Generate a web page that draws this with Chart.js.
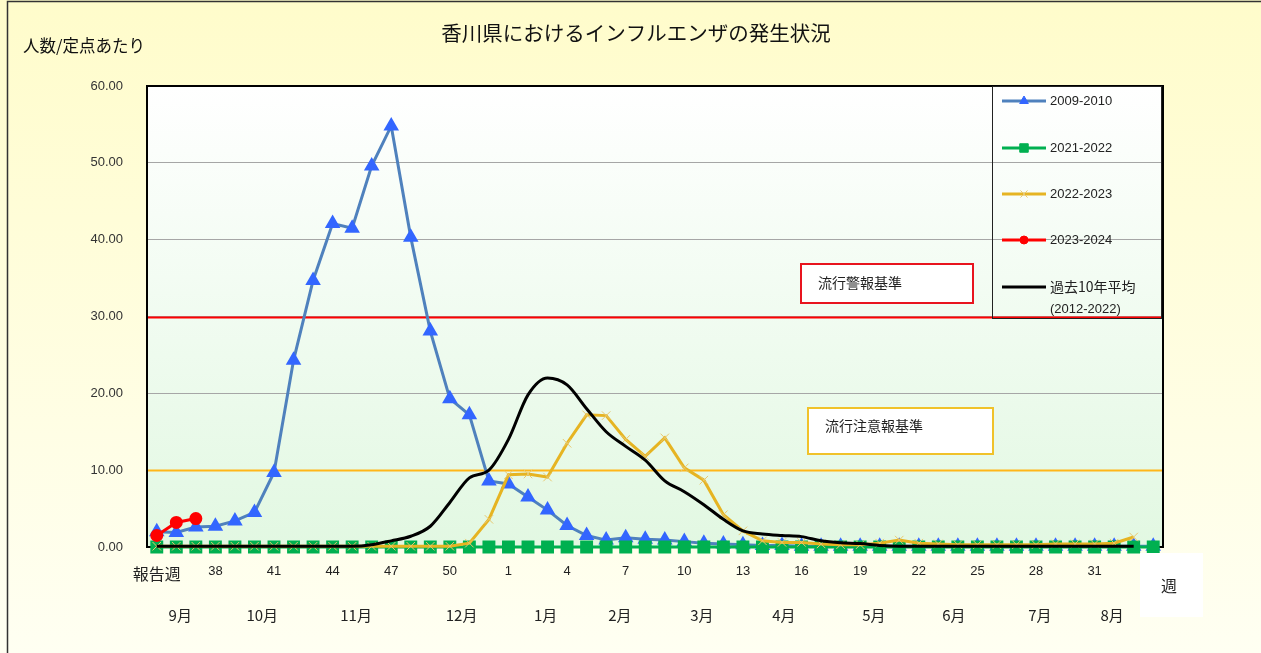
<!DOCTYPE html>
<html>
<head>
<meta charset="utf-8">
<script src="https://cdn.jsdelivr.net/npm/chart.js"></script>
<style>
    html, body { margin: 0; padding: 0; background: #fffde0; }
    #wrap { width: 1261px; height: 653px; }
</style>
</head>
<body>
<div id="wrap"><canvas id="fluChart" width="1261" height="653"></canvas></div>
<script>
// report weeks (Sept -> Aug)
const weeks = ["35","36","37","38","39","40","41","42","43","44","45","46","47","48","49","50","51","52",
    "1","2","3","4","5","6","7","8","9","10","11","12","13","14","15","16","17","18","19","20",
    "21","22","23","24","25","26","27","28","29","30","31","32","33","34"];

const s2009 = [2.0,1.9,2.6,2.7,3.4,4.5,9.7,24.3,34.7,42.1,41.5,49.6,54.8,40.3,28.1,19.3,17.2,8.6,
    8.2,6.5,4.8,2.8,1.5,0.9,1.2,1.0,0.9,0.7,0.5,0.4,0.3,0.2,0.2,0.1,0.1,0.1,0.1,0.1,
    0.1,0.1,0.1,0.1,0.1,0.1,0.1,0.1,0.1,0.1,0.1,0.1,0.1,0.1];
const s2021 = [0,0,0,0,0,0,0,0,0,0,0,0,0,0,0,0,0,0,
    0,0,0,0,0,0,0,0,0,0,0,0,0,0,0,0,0,0,0,0,
    0,0,0,0,0,0,0,0,0,0,0,0,0,0];
const s2022 = [0.1,0.1,0.1,0.1,0.1,0.1,0.1,0.1,0.1,0.1,0.1,0.1,0.1,0.1,0.1,0.1,0.5,3.6,
    9.4,9.5,9.1,13.5,17.2,17.1,14.0,11.8,14.2,10.3,8.7,4.2,2.1,0.8,0.6,0.6,0.4,0.3,0.3,0.5,
    0.9,0.5,0.4,0.3,0.3,0.3,0.3,0.3,0.4,0.4,0.4,0.5,1.3,null];
const s2023 = [1.5,3.2,3.7];
const avg10 = [0.1,0.1,0.1,0.1,0.1,0.1,0.1,0.1,0.1,0.1,0.1,0.3,0.8,1.4,2.7,5.8,9.0,10.0,
    14.0,19.8,22.0,21.1,18.0,15.0,13.1,11.3,8.6,7.2,5.5,3.6,2.1,1.7,1.5,1.35,0.8,0.55,0.45,0.2,
    0.1,0.1,0.1,0.1,0.1,0.1,0.1,0.1,0.1,0.1,0.1,0.1,0.1,null];

// month labels under the week axis (position in week index)
const monthLabels = ["9月","10月","11月","12月","1月","2月","3月","4月","5月","6月","7月","8月"];
const monthPos = [1.2,5.4,10.2,15.6,19.9,23.7,27.9,32.1,36.7,40.8,45.2,48.9];

const alertLevel = 30;   // 流行警報基準
const cautionLevel = 10; // 流行注意報基準

const jpFont = '"Noto Sans CJK JP", sans-serif';
const numFont = '"Liberation Sans", Arial, sans-serif';

const decor = {
    id: "decor",
    beforeDraw(chart) {
        const { ctx, chartArea: a, width, height } = chart;
        ctx.save();
        const bg = ctx.createLinearGradient(0, 0, 0, height);
        bg.addColorStop(0, "#fffccb");
        bg.addColorStop(1, "#fffff2");
        ctx.fillStyle = bg;
        ctx.fillRect(0, 0, width, height);
        // outer frame (left + top)
        ctx.strokeStyle = "#333";
        ctx.lineWidth = 1.5;
        ctx.beginPath();
        ctx.moveTo(7.5, height);
        ctx.lineTo(7.5, 1.5);
        ctx.lineTo(width, 1.5);
        ctx.stroke();
        // plot area fill
        const pg = ctx.createLinearGradient(0, a.top, 0, a.bottom);
        pg.addColorStop(0, "#ffffff");
        pg.addColorStop(1, "#e2f8e2");
        ctx.fillStyle = pg;
        ctx.fillRect(a.left, a.top, a.right - a.left, a.bottom - a.top);

        // title + axis title
        ctx.fillStyle = "#111";
        ctx.textBaseline = "middle";
        ctx.textAlign = "center";
        ctx.font = "20.5px " + jpFont;
        ctx.fillText("香川県におけるインフルエンザの発生状況", 636, 33);
        ctx.textAlign = "left";
        ctx.font = "16.5px " + jpFont;
        ctx.fillText("人数/定点あたり", 23, 46);
        ctx.restore();
    },
    beforeDatasetsDraw(chart) {
        const { ctx, chartArea: a, scales } = chart;
        ctx.save();
        const yA = Math.round(scales.y.getPixelForValue(alertLevel)) + 0.5;
        const yC = Math.round(scales.y.getPixelForValue(cautionLevel)) + 0.5;
        ctx.lineWidth = 2;
        ctx.strokeStyle = "#ff0000";
        ctx.beginPath();
        ctx.moveTo(a.left, yA);
        ctx.lineTo(a.right, yA);
        ctx.stroke();
        ctx.strokeStyle = "#ffb619";
        ctx.beginPath();
        ctx.moveTo(a.left, yC);
        ctx.lineTo(a.right, yC);
        ctx.stroke();
        // plot border
        ctx.strokeStyle = "#000";
        ctx.lineWidth = 2;
        ctx.strokeRect(a.left, a.top, a.right - a.left, a.bottom - a.top);
        ctx.restore();
    },
    afterDatasetsDraw(chart) {
        const { ctx, chartArea: a, scales } = chart;
        const x = scales.x, y = scales.y;
        ctx.save();

        // legend box
        const lx = a.right - 171, lt = a.top, lb = Math.round(y.getPixelForValue(alertLevel)) + 1;
        ctx.strokeStyle = "#222";
        ctx.lineWidth = 1;
        ctx.strokeRect(lx + 0.5, lt + 0.5, 169, lb - lt);
        const rows = [101, 148, 194, 240, 287];
        ctx.textBaseline = "middle";
        ctx.textAlign = "left";
        chart.data.datasets.forEach((ds, i) => {
            const yy = rows[i];
            ctx.strokeStyle = ds.borderColor;
            ctx.lineWidth = 3;
            ctx.beginPath();
            ctx.moveTo(lx + 10, yy);
            ctx.lineTo(lx + 54, yy);
            ctx.stroke();
            if (ds.pointRadius > 0) {
                ctx.fillStyle = ds.pointBackgroundColor;
                ctx.strokeStyle = ds.pointBorderColor;
                ctx.lineWidth = ds.pointBorderWidth || 1;
                Chart.helpers.drawPoint(ctx, {
                    pointStyle: ds.pointStyle,
                    radius: ds.pointRadius - 1,
                    borderWidth: ds.pointBorderWidth || 1
                }, lx + 32, yy);
            }
            ctx.fillStyle = "#222";
            if (i === 4) {
                ctx.font = "14px " + jpFont;
                ctx.fillText("過去10年平均", lx + 58, yy);
                ctx.font = "13px " + numFont;
                ctx.fillText("(2012-2022)", lx + 58, yy + 22);
            } else {
                ctx.font = "13px " + numFont;
                ctx.fillText(ds.label, lx + 58, yy);
            }
        });

        // threshold label boxes
        ctx.lineWidth = 2;
        ctx.fillStyle = "#fff";
        ctx.strokeStyle = "#e8141e";
        ctx.fillRect(801, 264, 172, 39);
        ctx.strokeRect(801, 264, 172, 39);
        ctx.strokeStyle = "#f0c22a";
        ctx.fillRect(808, 408, 185, 46);
        ctx.strokeRect(808, 408, 185, 46);
        ctx.fillStyle = "#222";
        ctx.font = "14px " + jpFont;
        ctx.fillText("流行警報基準", 818, 283);
        ctx.fillText("流行注意報基準", 825, 426);

        // month labels
        ctx.textAlign = "center";
        ctx.font = "15px " + jpFont;
        monthLabels.forEach((m, i) => {
            ctx.fillText(m, x.getPixelForValue(monthPos[i]), 615);
        });

        // 週 box
        ctx.fillStyle = "#ffffff";
        ctx.fillRect(1140, 553, 63, 64);
        ctx.fillStyle = "#222";
        ctx.font = "16px " + jpFont;
        ctx.fillText("週", 1169, 586);
        ctx.restore();
    }
};

const ctx = document.getElementById("fluChart").getContext("2d");

new Chart(ctx, {
    type: "line",
    data: {
        labels: weeks,
        datasets: [
            {
                label: "2009-2010",
                data: s2009,
                borderColor: "#4f81bd",
                borderWidth: 3,
                pointStyle: "triangle",
                pointRadius: 6,
                pointBackgroundColor: "#3366ff",
                pointBorderColor: "#3366ff",
                order: 4,
                clip: false,
            },
            {
                label: "2021-2022",
                data: s2021,
                borderColor: "#00b050",
                borderWidth: 3,
                pointStyle: "rect",
                pointRadius: 7,
                pointBackgroundColor: "#00b050",
                pointBorderColor: "#00b050",
                order: 3,
                clip: false,
            },
            {
                label: "2022-2023",
                data: s2022,
                borderColor: "#e6b422",
                borderWidth: 3,
                pointStyle: "crossRot",
                pointRadius: 6,
                pointBackgroundColor: "#f0d070",
                pointBorderColor: "#e8c870",
                pointBorderWidth: 1,
                order: 2,
                clip: false,
            },
            {
                label: "2023-2024",
                data: s2023,
                borderColor: "#ff0000",
                borderWidth: 3,
                pointStyle: "circle",
                pointRadius: 5,
                pointBackgroundColor: "#ff0000",
                pointBorderColor: "#ff0000",
                order: 0,
                clip: false,
            },
            {
                label: "過去10年平均(2012-2022)",
                data: avg10,
                borderColor: "#000000",
                borderWidth: 3,
                pointRadius: 0,
                tension: 0.4,
                cubicInterpolationMode: "monotone",
                order: 1,
                clip: false,
            },
        ],
    },
    options: {
        responsive: false,
        devicePixelRatio: 1,
        animation: false,
        layout: {
            padding: { top: 86, right: 98, bottom: 0, left: 0 },
        },
        scales: {
            x: {
                type: "category",
                offset: true,
                grid: { display: false },
                border: { display: false },
                afterFit: (scale) => { scale.height = 106; },
                ticks: {
                    autoSkip: false,
                    maxRotation: 0,
                    padding: 9,
                    color: "#222",
                    font: (c) => c.index === 0
                        ? { family: jpFont, size: 16 }
                        : { family: numFont, size: 13 },
                    callback: function (value, index) {
                        if (index === 0) return "報告週";
                        return index % 3 === 0 ? weeks[index] : "";
                    },
                },
            },
            y: {
                min: 0,
                max: 60,
                grid: { color: "#a6a6a6", drawTicks: false },
                border: { display: false },
                afterFit: (scale) => { scale.width = 147; },
                ticks: {
                    stepSize: 10,
                    padding: 24,
                    color: "#333",
                    font: { family: numFont, size: 13 },
                    callback: (v) => v.toFixed(2),
                },
            },
        },
        plugins: {
            legend: { display: false },
            tooltip: { enabled: false },
        },
    },
    plugins: [decor],
});
</script>
</body>
</html>
